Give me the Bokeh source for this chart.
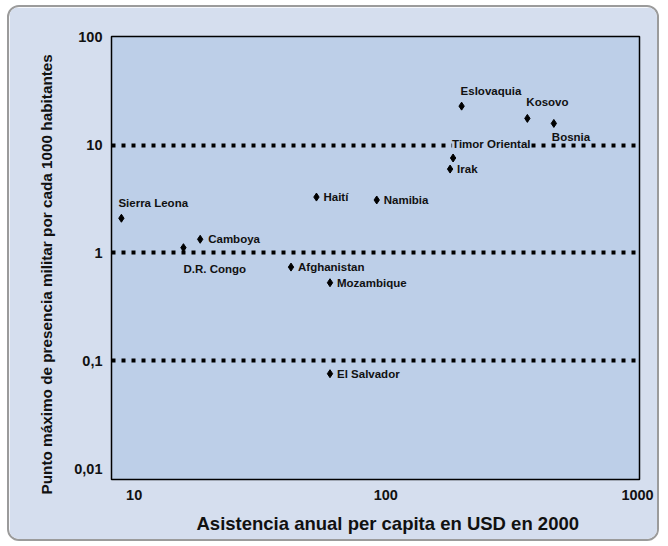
from bokeh.plotting import figure
from bokeh.models import FixedTicker, Range1d, Title, ColumnDataSource
from bokeh.core.properties import value
from bokeh.embed import file_html
from bokeh.resources import INLINE

# ---------------- data ----------------
countries = ["Sierra Leona", "D.R. Congo", "Camboya", "Afghanistan", "Mozambique",
             "Haití", "Namibia", "El Salvador", "Eslovaquia", "Kosovo", "Bosnia",
             "Timor Oriental", "Irak"]
aid_per_capita_usd = [8.9, 15.7, 18.3, 42, 60, 53, 92, 60, 200, 365, 465, 185, 180]
troops_per_1000 = [2.1, 1.12, 1.34, 0.74, 0.53, 3.3, 3.1, 0.076, 23, 17.7, 15.9, 7.6, 6.0]

x_ticks = [10, 100, 1000]
x_tick_labels = ["10", "100", "1000"]
y_ticks = [0.01, 0.1, 1, 10, 100]
y_tick_labels = ["0,01", "0,1", "1", "10", "100"]
grid_values = [0.1, 1, 10]

x_title = "Asistencia anual per capita en USD en 2000"
y_title = "Punto máximo de presencia militar por cada 1000 habitantes"

# ---------------- layout / style ----------------
FONT = "Liberation Sans"
PANEL_BG = "#D5DEEE"
PLOT_BG = "#BDCFE8"

# label placement relative to its marker, in screen pixels (dx, dy; dy>0 = down)
label_offsets = {
    "Sierra Leona": (-3, -15),
    "D.R. Congo": (0, 21),
    "Camboya": (8, 0),
    "Afghanistan": (7, 0),
    "Mozambique": (7, 0),
    "Haití": (7, 0),
    "Namibia": (7, 0),
    "El Salvador": (7, 0),
    "Eslovaquia": (-1, -15),
    "Kosovo": (-1, -16),
    "Bosnia": (-2, 14),
    "Timor Oriental": (-1, -14),
    "Irak": (7, 0),
}
boxed_labels = ["Timor Oriental"]

p = figure(width=652, height=536,
           x_axis_type="log", y_axis_type="log",
           x_range=Range1d(8.13, 1018), y_range=Range1d(0.00794, 101.7),
           output_backend="svg", toolbar_location=None,
           min_border_left=102, min_border_right=22,
           min_border_top=29, min_border_bottom=64,
           background_fill_color=PLOT_BG, border_fill_color=PANEL_BG)
p.styles = {"border": "2px solid #9b9b9b", "border-radius": "12px", "overflow": "hidden"}
p.margin = (5, 0, 0, 7)

p.outline_line_color = "black"
p.outline_line_width = 1.5

# axes
p.xaxis.ticker = FixedTicker(ticks=x_ticks)
p.yaxis.ticker = FixedTicker(ticks=y_ticks)
p.xaxis.major_label_overrides = {t: l for t, l in zip(x_ticks, x_tick_labels)}
p.yaxis.major_label_overrides = {t: l for t, l in zip(y_ticks, y_tick_labels)}
for ax in (p.xaxis, p.yaxis):
    ax.axis_line_color = None
    ax.major_tick_line_color = None
    ax.minor_tick_line_color = None
    ax.major_tick_in = 0
    ax.major_tick_out = 0
    ax.major_label_text_font = FONT
    ax.major_label_text_font_style = "bold"
    ax.major_label_text_font_size = "14.5px"
    ax.major_label_text_color = "#111111"
p.xaxis.major_label_standoff = 10
p.yaxis.major_label_standoff = 9

# grid
p.xgrid.grid_line_color = None
p.ygrid.ticker = FixedTicker(ticks=grid_values)
p.ygrid.grid_line_color = "black"
p.ygrid.grid_line_width = 4
p.ygrid.grid_line_dash = "4 6"
p.ygrid.grid_line_cap = "butt"

# axis titles
p.add_layout(Title(text=x_title, align="left", offset=85, standoff=16,
                   text_font=FONT, text_font_style="bold", text_font_size="18.5px",
                   text_color="#111111"), "below")
p.add_layout(Title(text=y_title, align="left", offset=-15, standoff=33,
                   text_font=FONT, text_font_style="bold", text_font_size="15.3px",
                   text_color="#111111"), "left")

# points
src = ColumnDataSource(dict(x=aid_per_capita_usd, y=troops_per_1000, name=countries,
                            dx=[label_offsets[c][0] for c in countries],
                            dy=[label_offsets[c][1] for c in countries]))
p.scatter("x", "y", source=src, marker="diamond", size=8, color="black")

plain_idx = [i for i, c in enumerate(countries) if c not in boxed_labels]
boxed_idx = [i for i, c in enumerate(countries) if c in boxed_labels]

def sub(idx):
    return ColumnDataSource({k: [v[i] for i in idx] for k, v in src.data.items()})

p.text("x", "y", text="name", source=sub(plain_idx), x_offset="dx", y_offset="dy",
       text_font=value(FONT), text_font_style="bold", text_font_size="11.5px",
       text_color="#111111", text_align="left", text_baseline="middle")
p.text("x", "y", text="name", source=sub(boxed_idx), x_offset="dx", y_offset="dy",
       text_font=value(FONT), text_font_style="bold", text_font_size="11.5px",
       text_color="#111111", text_align="left", text_baseline="middle",
       background_fill_color=PLOT_BG)

open("out.html", "w").write(file_html(p, INLINE))
